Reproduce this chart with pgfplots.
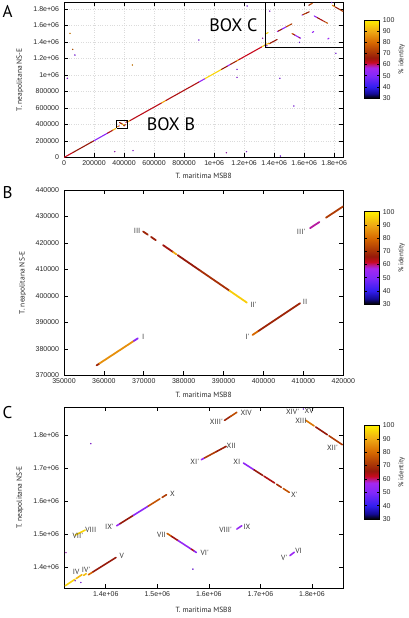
\documentclass[border=0pt]{standalone}
\usepackage{fontspec}
\setmainfont{Liberation Sans}
\newfontfamily\ptsans{PT Sans}
\usepackage{pgfplots}
\usepackage{pgfplotstable}
\pgfplotsset{compat=1.18}
\pgfplotsset{/pgf/number format/assume math mode=true}
\pgfplotsset{colormap={ident}{rgb255(30pt)=(0,0,0); rgb255(34pt)=(20,10,150); rgb255(40pt)=(50,30,240); rgb255(50pt)=(130,40,250); rgb255(57pt)=(165,40,240); rgb255(60pt)=(190,20,120); rgb255(62pt)=(200,10,30); rgb255(66pt)=(150,25,10); rgb255(72pt)=(175,60,5); rgb255(80pt)=(215,105,0); rgb255(90pt)=(240,170,20); rgb255(100pt)=(255,240,0)}}

% main diagonal (panel A)
\pgfplotstableread{
x y u v c
0 0 60000 61100 62
60000 61100 140000 142400 66
200000 203500 90000 91600 52
290000 295100 35000 35600 64
325000 330700 20000 20400 92
420000 427400 20000 20300 90
440000 447700 210000 213700 63
650000 661400 30000 30600 88
680000 692000 220000 223800 64
900000 915800 40000 40700 54
940000 956500 110000 112000 96
1050000 1068500 40000 40700 66
1090000 1109200 20000 20300 55
1110000 1129500 40000 40700 68
1150000 1170200 15000 15300 85
1165000 1185500 155000 157700 62
}\diagA

% box B region
\pgfplotstableread{
x y u v c
358167 373758 666 659 68
358833 374417 8667 8565 86
367500 382982 1000 990 52
369833 424325 1167 -1206 68
371833 422259 1167 -1206 67
374833 419160 2500 -2584 65
377333 416576 834 -860 90
378500 415372 5500 -5683 66
384000 409689 7500 -7747 70
391500 401942 4333 -4477 95
397250 385233 1500 1508 80
398750 386741 10417 10472 68
411667 425586 2333 2310 59
415667 429546 4333 4290 72
}\segB

% box C region
\pgfplotstableread{
x y u v c
1321500 1344800 18500 19200 96
1342500 1366500 11200 11500 92
1357000 1376000 5000 5000 93
1366400 1378000 8600 8500 80
1375000 1386500 44900 43700 66
1340700 1497900 19300 15000 96
1421200 1526000 6400 6200 55
1427600 1532200 25800 25000 66
1453400 1557200 29000 28100 52
1482400 1585300 22500 21900 76
1509400 1611600 8400 8100 72
1519000 1502700 8400 -8500 78
1527400 1494200 12900 -13000 65
1540300 1481200 25800 -26100 54
1566100 1455100 5100 -5200 64
1571200 1449900 4500 -4600 52
1654200 1516000 9600 10000 54
1757100 1435800 8400 10100 55
1585300 1725500 6400 5400 55
1591700 1730900 22600 18800 72
1614300 1749700 19300 16100 67
1667000 1715400 20600 -20600 53
1687600 1694800 16800 -16700 66
1706900 1675600 20700 -20600 64
1731400 1651200 9000 -9000 70
1744300 1638300 11600 -11500 76
1630400 1844300 11900 12100 68
1642300 1856400 11900 12100 75
1788000 1844300 16100 -16700 82
1807300 1824200 22500 -23300 66
1833000 1797600 25800 -26800 72
}\segC

% isolated short matches
\pgfplotstableread{
x y c
22000 960000 55
40000 1505000 85
58000 1311000 78
73000 1242000 52
456000 1121000 85
338000 71000 58
460000 83000 56
898000 1424000 52
1082000 58000 58
1153000 1068000 52
1153000 971000 55
1216000 71000 56
1220000 1836000 52
1438000 960000 52
1531000 624000 52
1442000 18000 52
1811000 1263000 52
}\dotsA

\pgfplotstableread{
x y c
1340700 1360000 52
1351700 1354700 52
1569000 1395000 50
1322800 1445000 58
1783400 1878500 52
1371000 1773800 55
}\dotsC

\pgfplotsset{
 dp/.style={
  scale only axis, width=279.3pt,
  clip mode=individual,
  axis line style={line width=0.8pt},
  every tick/.style={black,line width=0.6pt},
  tick label style={font=\fontsize{7}{8}\selectfont, text=black!85},
  yticklabel style={xshift=-1.5pt},
  label style={font=\ptsans\fontsize{7.5}{9}\selectfont, text=black!85},
  point meta min=30, point meta max=100,
  colormap name=ident,
  scaled ticks=false,
  colorbar,
  colorbar style={width=14.7pt, anchor=north west, at={(parent axis.north east)}, xshift=12.7pt,
    ytick={30,40,...,100},
    tick label style={font=\fontsize{7}{8}\selectfont, text=black!85},
    major tick length=2.5pt, axis line style={line width=0.8pt}},
 },
 seg/.style={point meta=explicit, -,
   quiver={u=\thisrow{u}, v=\thisrow{v}, colored=mapped color,
     every arrow/.append style={line width=#1, line cap=round}}},
 dots/.style={scatter, only marks, mark=*, mark size=0.5pt, point meta=explicit},
}
\tikzset{rn/.style={font=\ptsans\fontsize{7.5}{9}\selectfont, text=black!80},
  cbl/.style={font=\ptsans\fontsize{7}{8}\selectfont, text=black!85, rotate=90, anchor=center}}

\begin{document}
\begin{tikzpicture}
\path[use as bounding box] (0pt,0pt) rectangle (408pt,-618pt);

% ---------------- Panel A ----------------
\begin{axis}[dp, at={(64pt,-157.5pt)}, anchor=south west, height=155.5pt,
  xmin=0, xmax=1860725, ymin=0, ymax=1884562,
  xtick={0,200000,400000,600000,800000,1000000,1200000,1400000,1600000,1800000},
  xticklabels={0,200000,400000,600000,800000,1e+06,1.2e+06,1.4e+06,1.6e+06,1.8e+06},
  ytick={0,200000,400000,600000,800000,1000000,1200000,1400000,1600000,1800000},
  yticklabels={0,200000,400000,600000,800000,1e+06,1.2e+06,1.4e+06,1.6e+06,1.8e+06},
  grid=major, major grid style={dotted, gray!28, line width=0.4pt},
  xlabel={T. maritima MSB8}, ylabel={T. neapolitana NS-E},
  xlabel style={at={(axis description cs:0.5,-0.119)}, anchor=center},
  ylabel style={at={(axis description cs:-0.1575,0.5)}, anchor=center},
  colorbar style={yshift=-18pt, height=78pt}]
\addplot[seg=1.1pt] table[x=x,y=y,meta=c] {\diagA};
\addplot[seg=1.1pt] table[x=x,y=y,meta=c] {\segB};
\addplot[seg=1.1pt] table[x=x,y=y,meta=c] {\segC};
\addplot[dots] table[x=x,y=y,meta=c] {\dotsA};
\addplot[dots] table[x=x,y=y,meta=c] {\dotsC};
\addplot[black, line width=0.8pt] coordinates {(352000,355000) (420000,355000) (420000,445000) (352000,445000) (352000,355000)};
\addplot[black, line width=0.8pt] coordinates {(1343700,1884562) (1343700,1338000) (1860725,1338000)};
\node[font=\ptsans\fontsize{18}{18}\selectfont] at (axis cs:712800,400000) {BOX B};
\node[font=\ptsans\fontsize{18}{18}\selectfont] at (axis cs:1129000,1606000) {BOX C};
\node[cbl] at (axis description cs:1.2091,0.6334) {\% identity};
\end{axis}

% ---------------- Panel B ----------------
\begin{axis}[dp, at={(64pt,-375.3pt)}, anchor=south west, height=185.3pt,
  xmin=350000, xmax=420000, ymin=370000, ymax=440000,
  xtick={350000,360000,370000,380000,390000,400000,410000,420000},
  xticklabels={350000,360000,370000,380000,390000,400000,410000,420000},
  ytick={370000,380000,390000,400000,410000,420000,430000,440000},
  yticklabels={370000,380000,390000,400000,410000,420000,430000,440000},
  xlabel={T. maritima MSB8}, ylabel={T. neapolitana NS-E},
  xlabel style={at={(axis description cs:0.5,-0.106)}, anchor=center},
  ylabel style={at={(axis description cs:-0.148,0.5)}, anchor=center},
  colorbar style={yshift=-21.7pt, height=92.3pt}]
\addplot[seg=1.8pt] table[x=x,y=y,meta=c] {\segB};
\node[rn] at (axis cs:368333,424578) {III};
\node[rn] at (axis cs:409417,424325) {III'};
\node[rn] at (axis cs:397500,396583) {II'};
\node[rn] at (axis cs:410417,397717) {II};
\node[rn] at (axis cs:369833,384603) {I};
\node[rn] at (axis cs:396000,384603) {I'};
\node[cbl] at (axis description cs:1.2091,0.6338) {\% identity};
\end{axis}

% ---------------- Panel C ----------------
\begin{axis}[dp, at={(64pt,-588pt)}, anchor=south west, height=181pt,
  xmin=1319000, xmax=1860725, ymin=1338000, ymax=1884562,
  xtick={1400000,1500000,1600000,1700000,1800000},
  xticklabels={1.4e+06,1.5e+06,1.6e+06,1.7e+06,1.8e+06},
  ytick={1400000,1500000,1600000,1700000,1800000},
  yticklabels={1.4e+06,1.5e+06,1.6e+06,1.7e+06,1.8e+06},
  xlabel={T. maritima MSB8}, ylabel={T. neapolitana NS-E},
  xlabel style={at={(axis description cs:0.5,-0.12)}, anchor=center},
  ylabel style={at={(axis description cs:-0.1575,0.5)}, anchor=center},
  colorbar style={yshift=-18.5pt, height=93.5pt}]
\addplot[seg=1.6pt] table[x=x,y=y,meta=c] {\segC};
\addplot[dots] table[x=x,y=y,meta=c] {\dotsC};
\node[rn] at (axis cs:1672200,1866500) {XIV};
\node[rn] at (axis cs:1614300,1838300) {XIII'};
\node[rn] at (axis cs:1762300,1868500) {XIV'};
\node[rn] at (axis cs:1794500,1873500) {XV};
\node[rn] at (axis cs:1778400,1841300) {XIII};
\node[rn] at (axis cs:1839500,1760700) {XII'};
\node[rn] at (axis cs:1643200,1767800) {XII};
\node[rn] at (axis cs:1572500,1717400) {XI'};
\node[rn] at (axis cs:1654200,1717400) {XI};
\node[rn] at (axis cs:1765500,1619700) {X'};
\node[rn] at (axis cs:1529300,1621800) {X};
\node[rn] at (axis cs:1407000,1524000) {IX'};
\node[rn] at (axis cs:1371000,1512000) {VIII};
\node[rn] at (axis cs:1345900,1495900) {VII'};
\node[rn] at (axis cs:1508100,1498900) {VII};
\node[rn] at (axis cs:1591800,1443500) {VI'};
\node[rn] at (axis cs:1632300,1514000) {VIII'};
\node[rn] at (axis cs:1673500,1524100) {IX};
\node[rn] at (axis cs:1746200,1428400) {V'};
\node[rn] at (axis cs:1773900,1448500) {VI};
\node[rn] at (axis cs:1430900,1433400) {V};
\node[rn] at (axis cs:1362000,1393100) {IV'};
\node[rn] at (axis cs:1342700,1385100) {IV};
\node[cbl] at (axis description cs:1.2091,0.6395) {\% identity};
\end{axis}

\node[font=\ptsans\fontsize{17}{17}\selectfont] at (7.5pt,-11pt) {A};
\node[font=\ptsans\fontsize{17}{17}\selectfont] at (7.5pt,-193pt) {B};
\node[font=\ptsans\fontsize{17}{17}\selectfont] at (7.5pt,-412.5pt) {C};
\end{tikzpicture}
\end{document}
